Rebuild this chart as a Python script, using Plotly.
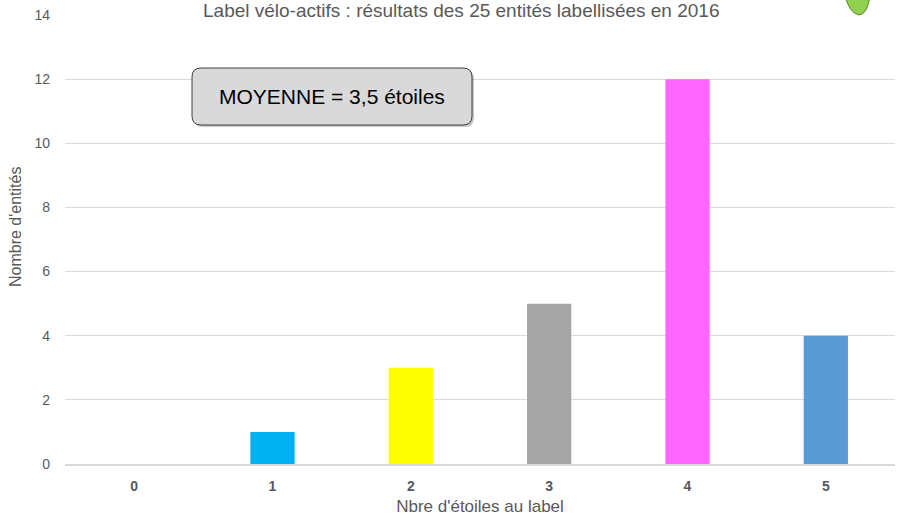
import plotly.graph_objects as go

categories = ["0", "1", "2", "3", "4", "5"]
counts = [0, 1, 3, 5, 12, 4]
bar_colors = ["#00B0F0", "#00B0F0", "#FFFF00", "#A5A5A5", "#FF66FF", "#5B9BD5"]
y_ticks = [0, 2, 4, 6, 8, 10, 12, 14]

title_text = "Label vélo-actifs : résultats des 25 entités labellisées en 2016"
mean_text = "MOYENNE = 3,5 étoiles"
y_title = "Nombre d'entités"
x_title = "Nbre d'étoiles au label"

FONT = "Liberation Sans, Arial, sans-serif"

fig = go.Figure()
fig.add_trace(go.Bar(
    x=categories, y=counts, marker=dict(color=bar_colors, line=dict(width=0)),
    width=0.32, showlegend=False, hoverinfo="x+y",
))

L, R, T, B = 65, 18, 15, 61
W, H = 913, 525
pw, ph = W - L - R, H - T - B


def px(x):
    return (x - L) / pw


def py(y):
    return (H - B - y) / ph


def rounded_rect(x0, y0, x1, y1, r):
    rx = r / pw
    ry = r / ph
    X0, X1 = px(x0), px(x1)
    Y0, Y1 = py(y0), py(y1)
    return (f"M {X0+rx},{Y0} L {X1-rx},{Y0} Q {X1},{Y0} {X1},{Y0-ry} "
            f"L {X1},{Y1+ry} Q {X1},{Y1} {X1-rx},{Y1} L {X0+rx},{Y1} "
            f"Q {X0},{Y1} {X0},{Y1+ry} L {X0},{Y0-ry} Q {X0},{Y0} {X0+rx},{Y0} Z")


shapes = [
    dict(type="path", xref="paper", yref="paper", path=rounded_rect(194, 70, 474, 127, 9),
         fillcolor="rgba(0,0,0,0.22)", line=dict(width=0), layer="above"),
    dict(type="path", xref="paper", yref="paper", path=rounded_rect(192, 68, 472, 125, 9),
         fillcolor="#D9D9D9", line=dict(color="#404040", width=1), layer="above"),
    dict(type="path", xref="paper", yref="paper",
         path=(f"M {px(845)},{py(-5)} Q {px(849)},{py(13)} {px(859)},{py(15)} "
               f"Q {px(868)},{py(14)} {px(870)},{py(-5)} Z"),
         fillcolor="#92D050", line=dict(color="#5a7f30", width=1), layer="above"),
]

fig.update_layout(
    width=W, height=H,
    margin=dict(l=L, r=R, t=T, b=B, autoexpand=False),
    paper_bgcolor="white", plot_bgcolor="white",
    font=dict(family=FONT, color="#595959"),
    xaxis=dict(
        type="category", categoryorder="array", categoryarray=categories,
        tickfont=dict(size=14, color="#595959", family=FONT, weight="bold"),
        showgrid=False, showline=True, linecolor="#D9D9D9", linewidth=1.5,
        ticks="", ticklabelstandoff=8, automargin=False,
        title=dict(text=x_title, font=dict(size=17, color="#595959"), standoff=8),
    ),
    yaxis=dict(
        range=[0, 14], tickvals=y_ticks, ticktext=[str(v) for v in y_ticks],
        tickfont=dict(size=14, color="#595959"),
        showgrid=True, gridcolor="#D9D9D9", gridwidth=1, zeroline=False,
        ticks="", ticklabelstandoff=14, automargin=False,
    ),
    shapes=shapes,
    annotations=[
        dict(text=title_text, xref="paper", yref="paper", x=px(461), y=py(11),
             xanchor="center", yanchor="middle", showarrow=False,
             font=dict(size=19, color="#595959")),
        dict(text=mean_text, xref="paper", yref="paper", x=px(332), y=py(96.5),
             xanchor="center", yanchor="middle", showarrow=False,
             font=dict(size=21, color="#000000")),
        dict(text=y_title, xref="paper", yref="paper", x=px(15), y=py(227),
             xanchor="center", yanchor="middle", showarrow=False, textangle=-90,
             font=dict(size=16, color="#595959")),
    ],
)

fig.write_html("out.html", config={"displayModeBar": False},
               post_script="document.body.style.margin='0';document.body.style.padding='0';")
